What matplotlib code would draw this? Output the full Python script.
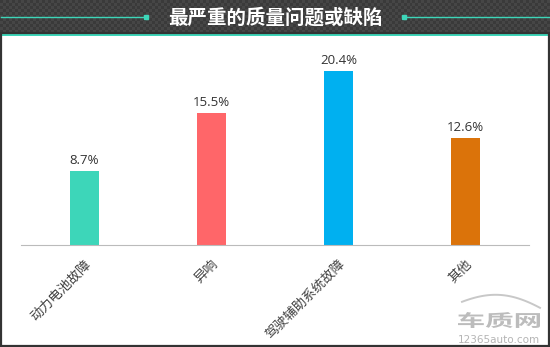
import matplotlib
matplotlib.use("Agg")
import matplotlib.pyplot as plt
import numpy as np
from matplotlib.patches import Rectangle, PathPatch
from matplotlib.textpath import TextPath
from matplotlib.font_manager import FontProperties
from matplotlib.transforms import Affine2D

plt.rcParams['font.family'] = ['Noto Sans CJK SC', 'DejaVu Sans']

title = "最严重的质量问题或缺陷"
categories = ["动力电池故障", "异响", "驾驶辅助系统故障", "其他"]
values = [8.7, 15.5, 20.4, 12.6]
labels = ["8.7%", "15.5%", "20.4%", "12.6%"]
colors = ["#3dd6b9", "#ff6669", "#00b0f0", "#db730a"]

W, H = 550, 347
fig = plt.figure(figsize=(W / 100, H / 100), dpi=100)
fig.patch.set_facecolor("white")

# overlay in pixel coordinates
ov = fig.add_axes([0, 0, 1, 1], zorder=0)
ov.set_xlim(0, W)
ov.set_ylim(H, 0)
ov.axis("off")

# header with checker pattern
n_y, n_x = 11, 184
checker = (np.indices((n_y, n_x)).sum(axis=0) % 2)
ov.imshow(checker, cmap=matplotlib.colors.ListedColormap(["#3a3a3a", "#464646"]),
          aspect="auto", interpolation="nearest", extent=[0, W, 33, 0])
ov.set_xlim(0, W)
ov.set_ylim(H, 0)
ov.plot([1, 146], [16.5, 16.5], color="#3dd6b9", lw=1)
ov.plot([404, 549], [16.5, 16.5], color="#3dd6b9", lw=1)
ov.plot([146, 404], [16.5, 16.5], color="#3dd6b9", lw=0, marker="s", ms=2.5)
ov.text(275, 17.5, title, color="white", fontsize=14, fontweight="bold",
        ha="center", va="center")
ov.add_patch(Rectangle((0, 33), W, 3, color="#3dd6b9", lw=0))
# frame border
ov.add_patch(Rectangle((1, 33), W - 2, H - 34, fill=False, edgecolor="#333333", lw=1.6))

# watermark: car arc + stretched logo text
t = np.linspace(0, 1, 50)
arc_x = 462 + 78 * t
arc_y = 310 - 18 * np.sin(np.pi * (0.15 + 0.7 * t)) + 6 * t
ov.plot(arc_x, arc_y, color="#c8c8c8", lw=1.4)
tp = TextPath((0, 0), "车质网", size=20,
              prop=FontProperties(family="Noto Sans CJK SC", weight="bold"))
ext = tp.get_extents()
x0, y0, x1, y1 = 458, 312, 540, 328
tr = (Affine2D().translate(-ext.x0, -ext.y0)
      .scale((x1 - x0) / ext.width, -(y1 - y0) / ext.height)
      .translate(x0, y1))
ov.add_patch(PathPatch(tr.transform_path(tp), color="#bcbcbc", lw=0))
ov.text(499, 340, "12365auto.com", fontsize=7.5, color="#b5b5b5",
        ha="center", va="center", family=["DejaVu Sans"])

# main chart
ax = fig.add_axes([21 / W, 1 - 245 / H, 508 / W, 205 / H], zorder=2)
ax.patch.set_alpha(0)
x = np.arange(len(categories))
ax.bar(x, values, width=0.23, color=colors)
for xi, v, lab in zip(x, values, labels):
    ax.text(xi, v + 0.45, lab, ha="center", va="bottom", fontsize=9.5,
            color="#333333", family=["Open Sans", "DejaVu Sans"])
ax.set_xlim(-0.5, 3.5)
ax.set_ylim(0, 205 / 8.53)
for s in ["top", "right", "left"]:
    ax.spines[s].set_visible(False)
ax.spines["bottom"].set_color("#bbbbbb")
ax.set_yticks([])
ax.set_xticks(x)
ax.set_xticklabels(categories, rotation=45, ha="right", rotation_mode="anchor",
                   fontsize=9.5, color="#404040")
ax.tick_params(axis="x", length=0, pad=9)

fig.savefig("out.png", dpi=100)
